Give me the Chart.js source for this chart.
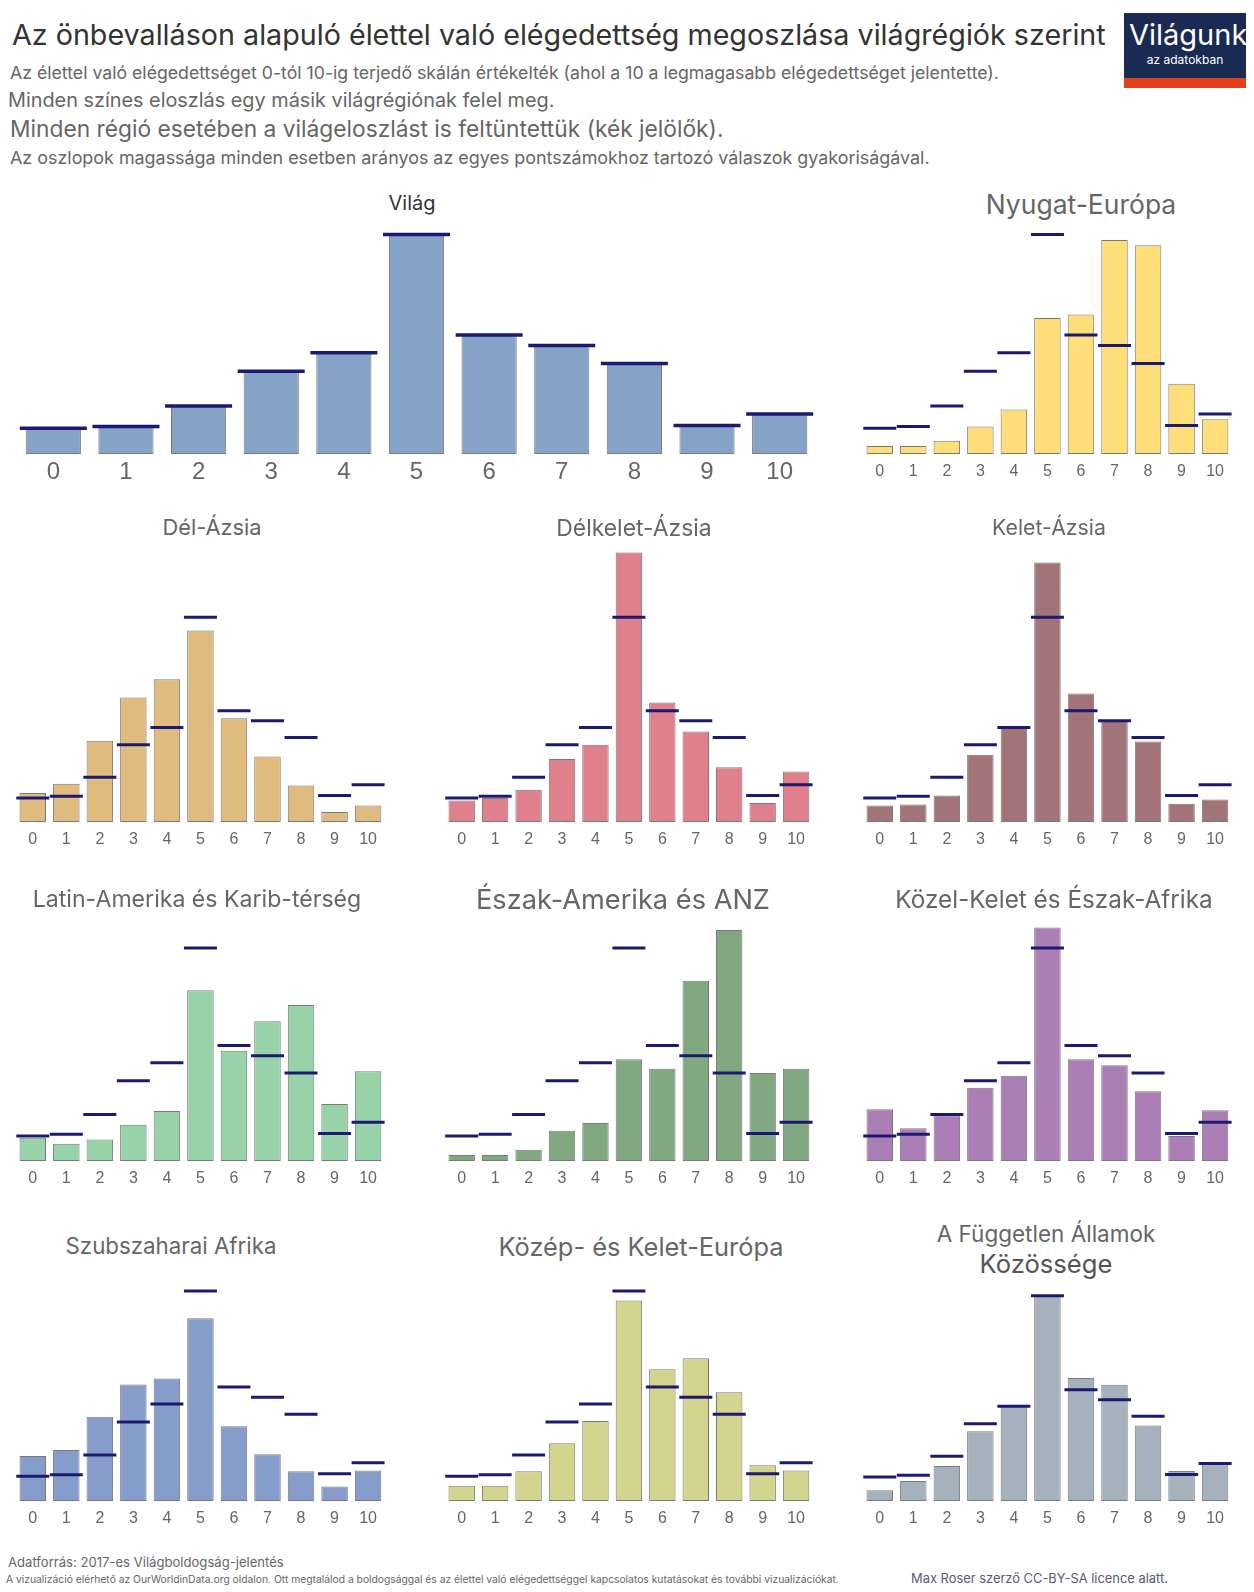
<!DOCTYPE html>
<html lang="hu">
<head>
<meta charset="UTF-8">
<title>Élettel való elégedettség</title>
<script src="https://cdnjs.cloudflare.com/ajax/libs/Chart.js/4.4.1/chart.umd.min.js"></script>
<style>
    html, body { margin: 0; padding: 0; background: #fff; }
    #page { position: relative; width: 1254px; height: 1592px; overflow: hidden; font-family: "Inter", sans-serif; color: #666; }
    canvas { position: absolute; }
    .txt { position: absolute; white-space: nowrap; transform: translateY(-50%); }
    .mid { transform: translate(-50%, -50%); }
    #logo { position: absolute; left: 1124px; top: 13px; width: 122px; height: 75px; background: #1a2a52; overflow: hidden; }
    #logo .red { position: absolute; left: 0; right: 0; bottom: 0; height: 10px; background: #e0401b; }
</style>
</head>
<body>
<div id="page">
    <div id="logo"><div class="red"></div></div>
</div>
<script>
const scores = ["0", "1", "2", "3", "4", "5", "6", "7", "8", "9", "10"];

// percent of answers per score
const vilag = [2.9, 3.1, 5.4, 9.3, 11.4, 24.7, 13.4, 12.2, 10.2, 3.2, 4.5];
const nyugatEuropa = [0.9, 0.9, 1.5, 3.1, 5.0, 15.3, 15.7, 24.1, 23.5, 7.9, 3.9];
const delAzsia = [3.5, 4.6, 9.8, 15.0, 17.2, 23.1, 12.5, 7.9, 4.4, 1.2, 2.0];
const delkeletAzsia = [2.6, 2.9, 3.9, 7.6, 9.3, 32.5, 14.4, 10.9, 6.6, 2.3, 6.1];
const keletAzsia = [2.0, 2.1, 3.2, 8.1, 11.4, 31.3, 15.5, 12.2, 9.7, 2.2, 2.7];
const latinAmerika = [2.7, 2.0, 2.5, 4.2, 5.8, 19.8, 12.8, 16.2, 18.1, 6.6, 10.4];
const eszakAmerika = [0.7, 0.7, 1.3, 3.5, 4.4, 11.8, 10.7, 20.9, 26.8, 10.2, 10.7];
const kozelKelet = [6.0, 3.8, 5.3, 8.5, 9.9, 27.1, 11.8, 11.1, 8.1, 2.9, 5.9];
const szubszaharai = [5.3, 6.0, 9.9, 13.7, 14.4, 21.5, 8.8, 5.5, 3.5, 1.7, 3.6];
const kozepEuropa = [1.8, 1.8, 3.5, 6.8, 9.4, 23.6, 15.5, 16.8, 12.8, 4.2, 3.6];
const fak = [1.3, 2.4, 4.2, 8.4, 11.4, 24.8, 14.8, 14.0, 9.1, 3.6, 4.4];

Chart.defaults.animation = false;
Chart.defaults.devicePixelRatio = 1;

const page = document.getElementById("page");

// left, plot width, baseline, px per percent, y max
function panel(data, color, left, width, base, pxPerc, yMax, big) {
    const axisH = big ? 34 : 28;
    const plotH = Math.round(yMax * pxPerc);
    const c = document.createElement("canvas");
    c.width = width;
    c.height = plotH + axisH;
    c.style.left = left + "px";
    c.style.top = (base - plotH) + "px";
    page.appendChild(c);
    new Chart(c, {
        type: "bar",
        data: {
            labels: scores,
            datasets: [
                {
                    type: "line",
                    data: vilag,
                    showLine: false,
                    pointStyle: "line",
                    pointRadius: big ? 33.5 : 16.5,
                    pointBorderColor: "#1c1a70",
                    pointBorderWidth: big ? 3.5 : 3,
                    clip: false,
                    order: 0
                },
                {
                    data: data,
                    backgroundColor: color,
                    borderColor: "#7a7a7a",
                    borderWidth: 1,
                    borderSkipped: false,
                    categoryPercentage: 1,
                    barPercentage: big ? 0.76 : 0.79,
                    order: 1
                }
            ]
        },
        options: {
            responsive: false,
            layout: { padding: 0, autoPadding: false },
            plugins: { legend: { display: false }, tooltip: { enabled: false }, title: { display: false } },
            scales: {
                x: {
                    offset: true,
                    grid: { display: false, drawTicks: false },
                    border: { display: false },
                    ticks: {
                        color: "#666",
                        padding: big ? 4 : 8,
                        maxRotation: 0,
                        autoSkip: false,
                        font: { family: "Liberation Sans", size: big ? 24 : 16 }
                    },
                    afterFit: function (scale) { scale.height = axisH; }
                },
                y: { display: false, min: 0, max: yMax }
            }
        }
    });
}

panel(vilag, "#84a3c7", 17, 799, 454, 8.87, 26, true);
panel(nyugatEuropa, "#fede78", 863, 369, 454, 8.9, 26);
panel(delAzsia, "#e0bb80", 16, 369, 822, 8.3, 34);
panel(delkeletAzsia, "#e0808c", 445, 368, 822, 8.3, 34);
panel(keletAzsia, "#a27478", 863, 369, 822, 8.3, 34);
panel(latinAmerika, "#98d2a8", 16, 369, 1161, 8.62, 29);
panel(eszakAmerika, "#82a882", 445, 368, 1161, 8.62, 29);
panel(kozelKelet, "#ac7eb6", 863, 369, 1161, 8.62, 29);
panel(szubszaharai, "#869cca", 16, 369, 1501, 8.5, 26);
panel(kozepEuropa, "#d3d58e", 445, 368, 1501, 8.5, 26);
panel(fak, "#a5b1bc", 863, 369, 1501, 8.3, 26);

function text(str, x, y, size, color, centered, parent) {
    const d = document.createElement("div");
    d.className = centered ? "txt mid" : "txt";
    d.textContent = str;
    d.style.left = x + "px";
    d.style.top = y + "px";
    d.style.fontSize = size + "px";
    if (color) d.style.color = color;
    (parent || page).appendChild(d);
}

text("Az önbevalláson alapuló élettel való elégedettség megoszlása világrégiók szerint", 12, 34, 28.7, "#333");
text("Az élettel való elégedettséget 0-tól 10-ig terjedő skálán értékelték (ahol a 10 a legmagasabb elégedettséget jelentette).", 10, 72, 17.7);
text("Minden színes eloszlás egy másik világrégiónak felel meg.", 8, 100, 19.85);
text("Minden régió esetében a világeloszlást is feltüntettük (kék jelölők).", 10, 128, 22.75);
text("Az oszlopok magassága minden esetben arányos az egyes pontszámokhoz tartozó válaszok gyakoriságával.", 10, 157, 17.9);

const logo = document.getElementById("logo");
text("Világunk", 5, 21, 29, "#fff", false, logo);
text("az adatokban", 61, 46, 12, "#fff", true, logo);

text("Világ", 412, 203, 20, "#333", true);
text("Nyugat-Európa", 1081, 204, 26.5, null, true);
text("Dél-Ázsia", 212, 527, 21.8, null, true);
text("Délkelet-Ázsia", 634, 528, 22.9, null, true);
text("Kelet-Ázsia", 1049, 527, 21.3, null, true);
text("Latin-Amerika és Karib-térség", 197, 899, 23.1, null, true);
text("Észak-Amerika és ANZ", 623, 899, 27.2, null, true);
text("Közel-Kelet és Észak-Afrika", 1054, 899, 24.3, null, true);
text("Szubszaharai Afrika", 171, 1245, 22.3, null, true);
text("Közép- és Kelet-Európa", 641, 1246, 25.4, null, true);
text("A Független Államok", 1046, 1233, 22.5, null, true);
text("Közössége", 1046, 1263, 25.6, "#555", true);

text("Adatforrás: 2017-es Világboldogság-jelentés", 8, 1562, 13.1);
text("A vizualizáció elérhető az OurWorldinData.org oldalon. Ott megtalálod a boldogsággal és az élettel való elégedettséggel kapcsolatos kutatásokat és további vizualizációkat.", 6, 1579, 10.3);
text("Max Roser szerző CC-BY-SA licence alatt.", 911, 1578, 12.9, "#5a5a78");
</script>
</body>
</html>
